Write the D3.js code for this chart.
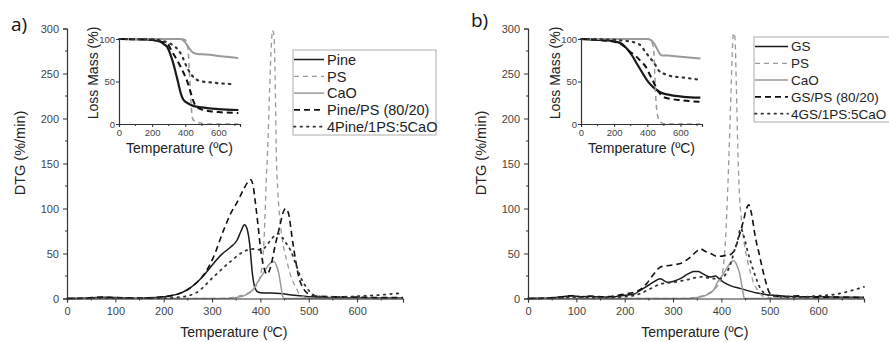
<!DOCTYPE html>
<html>
<head>
<meta charset="utf-8">
<script src="https://cdn.jsdelivr.net/npm/d3@7"></script>
<style>
body { margin: 0; background: #fff; }
svg { font-family: "Liberation Sans", Arial, sans-serif; }
</style>
</head>
<body>
<div id="chart"></div>
<script>
// ---- data: [temperature (ºC), value] ----
var dtgTicks = [0, 50, 100, 150, 200, 250, 300];
var tempTicks = [0, 100, 200, 300, 400, 500, 600];
var insetTempTicks = [0, 200, 400, 600];
var insetMassTicks = [0, 50, 100];

var namesA = ["Pine", "PS", "CaO", "Pine/PS (80/20)", "4Pine/1PS:5CaO"];
var namesB = ["GS", "PS", "CaO", "GS/PS (80/20)", "4GS/1PS:5CaO"];

// panel a, DTG (%/min)
var pineDTG = [[0,0],[30,0.3],[60,1],[80,1.5],[100,1],[130,0.3],[160,0.5],[200,2],[235,6],[250,10],[269,18],[285,27],[303,39],[320,49],[338,57],[352,65],[360,75],[367,82],[372,78],[378,60],[383,30],[388,13],[393,8],[400,6.5],[440,5.5],[470,3.5],[500,2],[550,1],[600,0.8],[650,0.5],[695,0.5]];
var psDTG = [[0,0],[300,0],[330,0.5],[350,2],[370,5],[385,10],[397,20],[404,39],[408,70],[412,130],[415,165],[419,230],[423,285],[425,298],[428,293],[431,230],[433,160],[436,120],[440,90],[445,67],[455,41],[465,22],[473,13],[482,4],[495,1],[520,0],[695,0]];
var caoDTG = [[0,0],[330,0],[350,1],[370,4],[385,10],[393,17],[405,27],[414,35],[422,40],[428,41],[433,37],[438,28],[443,12],[447,1],[450,0],[695,0]];
var pinePsDTG = [[0,0],[40,0.5],[70,1.5],[100,1],[150,0.5],[200,2],[235,6],[250,10],[269,18],[285,28],[303,46],[324,76],[340,96],[352,107],[365,121],[375,130],[380,132],[385,125],[390,105],[395,82],[400,57],[407,35],[414,27],[420,33],[431,60],[440,80],[448,97],[452,100],[458,95],[466,66],[473,42],[479,25],[488,12],[497,6],[510,3],[550,2],[600,1.5],[650,1],[695,1]];
var pineMixDTG = [[0,0],[100,0.5],[200,0.5],[240,2],[269,7],[303,24],[338,41],[365,52],[385,55],[400,54],[410,57],[420,64],[430,70],[437,72],[445,68],[455,60],[462,54],[472,40],[483,24],[492,15],[500,9],[514,3],[540,1.5],[580,2],[620,3],[650,4],[680,5.5],[695,6]];

// panel a, TG inset (%)
var pineTG = [[0,100],[150,99.5],[200,99],[248,97],[270,94],[289,91],[310,82],[328,71],[345,58],[358,48],[370,38],[380,32],[395,27],[410,25],[452,21],[500,19.5],[600,17.5],[720,16.5]];
var psTG = [[0,100],[380,100],[400,99],[410,95],[418,85],[425,60],[432,35],[438,15],[445,6],[460,3],[500,1],[550,0],[720,0]];
var caoTG = [[0,100],[370,100],[385,99],[400,96],[420,90],[440,85],[460,83],[500,82],[550,81.5],[600,80],[650,79],[720,77.5]];
var pinePsTG = [[0,100],[200,99],[250,97],[289,95],[320,85],[348,76],[370,68],[390,60],[410,51],[425,42],[440,32],[455,24],[470,20],[500,17],[550,15],[600,14],[720,13]];
var pineMixTG = [[0,100],[200,99.5],[260,98],[290,96],[330,92],[358,87],[380,80],[400,71],[415,65],[430,60],[450,55],[470,52],[500,50],[550,49],[600,48],[680,47]];

// panel b, DTG (%/min)
var gsDTG = [[0,0],[40,0.5],[60,1.5],[80,2.5],[90,3],[110,2],[130,2.5],[150,1.5],[180,2],[200,3.5],[220,5],[232,9],[250,15],[265,20],[274,22],[288,18],[300,19],[315,22],[330,27],[343,30],[352,30],[360,28],[370,25],[378,24],[388,25],[395,22],[405,18],[420,14],[440,11],[474,6],[522,3],[560,2],[600,2],[650,1.5],[695,1.5]];
var psBDTG = [[0,0],[300,0],[340,1],[370,5],[385,10],[398,20],[405,40],[409,70],[413,120],[416,165],[420,230],[423,280],[425,295],[428,290],[431,235],[434,165],[438,110],[442,85],[447,62],[455,40],[465,20],[475,9],[485,3],[500,1],[520,0],[695,0]];
var caoBDTG = [[0,0],[330,0],[350,1],[370,4],[385,10],[391,17],[405,28],[414,36],[421,41],[426,42],[432,37],[438,27],[443,12],[447,1],[450,0],[695,0]];
var gsPsDTG = [[0,0],[40,0.5],[70,1.5],[90,3],[110,2],[130,2.5],[160,2],[200,5],[220,7],[235,11],[246,17],[260,27],[274,35],[295,37],[315,39],[336,46],[350,53],[357,55],[368,52],[378,50],[390,47],[398,47],[410,48],[419,49],[428,55],[437,70],[445,85],[452,100],[457,104],[462,95],[471,66],[478,50],[485,33],[492,18],[498,8],[507,3],[530,2],[560,3],[570,2],[600,1.5],[650,1.5],[695,1]];
var gsMixDTG = [[0,0],[50,0.5],[100,1.5],[150,1],[200,2],[230,5],[250,10],[274,16],[300,18],[330,21],[357,24],[385,22],[400,22],[410,28],[420,40],[428,55],[433,63],[440,78],[446,70],[454,53],[467,30],[481,11],[495,4],[520,2],[560,1.5],[600,3],[640,5],[670,9],[695,13]];

// panel b, TG inset (%)
var gsTG = [[0,100],[100,99],[150,98.5],[208,97],[249,94],[280,88],[310,80],[340,70],[371,60],[400,51],[422,46],[450,41],[494,36],[530,34.5],[567,33],[620,32],[720,31]];
var psBTG = [[0,100],[400,100],[425,97],[438,88],[445,60],[450,35],[458,15],[470,5],[490,1],[520,0],[720,0]];
var caoBTG = [[0,100],[400,100],[420,99],[440,95],[460,88],[484,81],[520,80.5],[600,79],[720,77]];
var gsPsTG = [[0,100],[100,99],[150,98],[208,96.5],[249,93],[290,86],[330,80],[360,74],[392,67],[415,58],[441,48],[460,40],[480,35],[494,32],[530,30],[600,28],[720,26]];
var gsMixTG = [[0,100],[200,99],[255,98],[300,97],[350,94],[370,90],[392,84],[415,78],[441,72],[465,64],[485,60],[502,59],[550,56],[600,55],[720,52]];

// ---- line styles, in legend order ----
var styles = [
  { stroke: "#1a1a1a", dash: null,    width: 1.5, insetWidth: 2.2 },
  { stroke: "#9a9a9a", dash: "5,4",   width: 1.3, insetWidth: 1.5 },
  { stroke: "#9a9a9a", dash: null,    width: 1.5, insetWidth: 2 },
  { stroke: "#111",    dash: "6,4",   width: 1.6, insetWidth: 2 },
  { stroke: "#333",    dash: "1.5,5", width: 1.8, insetWidth: 2.2 }
];

var svg = d3.select("#chart").append("svg")
  .attr("width", 889)
  .attr("height", 342);

function drawAxes(g, x, y, xTicks, yTicks, xMinor, yMinor, size) {
  var big = size == "main";
  var fs = big ? 11 : 9.5;

  var xAxis = g.append("g")
    .attr("transform", "translate(0," + y.range()[0] + ")")
    .call(d3.axisBottom(x).tickValues(xTicks).tickSize(big ? 4 : 3).tickPadding(big ? 5 : 2));
  xAxis.append("g").selectAll("line")
    .data(xMinor).enter().append("line")
    .attr("x1", function(d) { return x(d); })
    .attr("x2", function(d) { return x(d); })
    .attr("y2", 2)
    .attr("stroke", "#333");

  var yAxis = g.append("g")
    .attr("transform", "translate(" + x.range()[0] + ",0)")
    .call(d3.axisLeft(y).tickValues(yTicks).tickSize(big ? 4 : 3).tickPadding(big ? 4 : 1));
  yAxis.append("g").selectAll("line")
    .data(yMinor).enter().append("line")
    .attr("y1", function(d) { return y(d); })
    .attr("y2", function(d) { return y(d); })
    .attr("x2", -2)
    .attr("stroke", "#333");

  [xAxis, yAxis].forEach(function(a) {
    a.select(".domain").attr("stroke", "#333").attr("stroke-width", 1.2);
    a.selectAll(".tick line").attr("stroke", "#333");
    a.selectAll("text").attr("fill", "#444").style("font-size", fs + "px")
      .style("font-family", "Liberation Sans, Arial, sans-serif");
  });
}

function drawLines(g, x, y, series, inset) {
  var line = d3.line()
    .x(function(d) { return x(d[0]); })
    .y(function(d) { return y(d[1]); })
    .curve(d3.curveMonotoneX);
  g.append("g").selectAll("path")
    .data(series).enter().append("path")
    .attr("d", function(d) { return line(d); })
    .attr("fill", "none")
    .attr("stroke", function(d, i) { return styles[i].stroke; })
    .attr("stroke-width", function(d, i) { return inset ? styles[i].insetWidth : styles[i].width; })
    .attr("stroke-dasharray", function(d, i) { return styles[i].dash; })
    .attr("stroke-linecap", function(d, i) { return i == 4 ? "round" : "butt"; })
    .attr("stroke-linejoin", "round");
}

function drawPanel(p) {
  var g = svg.append("g");

  // main DTG plot
  var x = d3.scaleLinear().domain([0, 695]).range([p.left, p.left + 336]);
  var y = d3.scaleLinear().domain([0, 300]).range([298.5, 28.5]);
  drawLines(g, x, y, p.dtg, false);
  drawAxes(g, x, y, tempTicks, dtgTicks, [50, 150, 250, 350, 450, 550, 650], [25, 75, 125, 175, 225, 275], "main");

  g.append("text")
    .attr("transform", "translate(" + (p.left - 42) + ",153) rotate(-90)")
    .attr("text-anchor", "middle")
    .style("font-size", "14.5px")
    .attr("fill", "#222")
    .text("DTG (%/min)");
  g.append("text")
    .attr("x", x(345))
    .attr("y", 337)
    .attr("text-anchor", "middle")
    .style("font-size", "14px")
    .attr("fill", "#222")
    .text("Temperature (ºC)");
  g.append("text")
    .attr("x", p.labelX)
    .attr("y", p.labelY)
    .style("font-size", "19px")
    .style("font-family", "Open Sans, sans-serif")
    .attr("fill", "#111")
    .text(p.label);

  // inset TG plot
  var xi = d3.scaleLinear().domain([0, 730]).range([p.insetLeft, p.insetLeft + 121]);
  var yi = d3.scaleLinear().domain([0, 100]).range([124, 39]);
  drawLines(g, xi, yi, p.tg, true);
  drawAxes(g, xi, yi, insetTempTicks, insetMassTicks, [100, 300, 500, 700], [], "inset");
  g.append("text")
    .attr("transform", "translate(" + (p.insetLeft - 21) + ",73) rotate(-90)")
    .attr("text-anchor", "middle")
    .style("font-size", "14px")
    .attr("fill", "#222")
    .text("Loss Mass (%)");
  g.append("text")
    .attr("x", xi(365))
    .attr("y", 153)
    .attr("text-anchor", "middle")
    .style("font-size", "14px")
    .attr("fill", "#222")
    .text("Temperature (ºC)");

  // legend
  var lg = g.append("g");
  lg.append("rect")
    .attr("x", p.legX)
    .attr("y", p.legY)
    .attr("width", p.legW)
    .attr("height", 85)
    .attr("fill", "#fff")
    .attr("stroke", "#bbb")
    .attr("stroke-width", 1.2);
  var item = lg.selectAll(".item")
    .data(p.names).enter().append("g")
    .attr("transform", function(d, i) { return "translate(" + p.legX + "," + (p.legY + 9.5 + i * 16.8) + ")"; });
  item.append("line")
    .attr("x1", 1)
    .attr("x2", p.sampleW)
    .attr("stroke", function(d, i) { return styles[i].stroke; })
    .attr("stroke-width", function(d, i) { return styles[i].width; })
    .attr("stroke-dasharray", function(d, i) { return styles[i].dash; })
    .attr("stroke-linecap", function(d, i) { return i == 4 ? "round" : "butt"; });
  item.append("text")
    .attr("x", p.sampleW + 3)
    .attr("dy", "0.36em")
    .style("font-size", p.legFont + "px")
    .attr("fill", "#222")
    .text(function(d) { return d; });
}

drawPanel({
  label: "a)", labelX: 11, labelY: 31,
  left: 67, insetLeft: 119,
  legX: 293, legY: 50, legW: 143, sampleW: 31, legFont: 14.5,
  names: namesA,
  dtg: [pineDTG, psDTG, caoDTG, pinePsDTG, pineMixDTG],
  tg: [pineTG, psTG, caoTG, pinePsTG, pineMixTG]
});

drawPanel({
  label: "b)", labelX: 471, labelY: 27,
  left: 528, insetLeft: 581,
  legX: 754, legY: 37, legW: 150, sampleW: 34, legFont: 13.5,
  names: namesB,
  dtg: [gsDTG, psBDTG, caoBDTG, gsPsDTG, gsMixDTG],
  tg: [gsTG, psBTG, caoBTG, gsPsTG, gsMixTG]
});
</script>
</body>
</html>
